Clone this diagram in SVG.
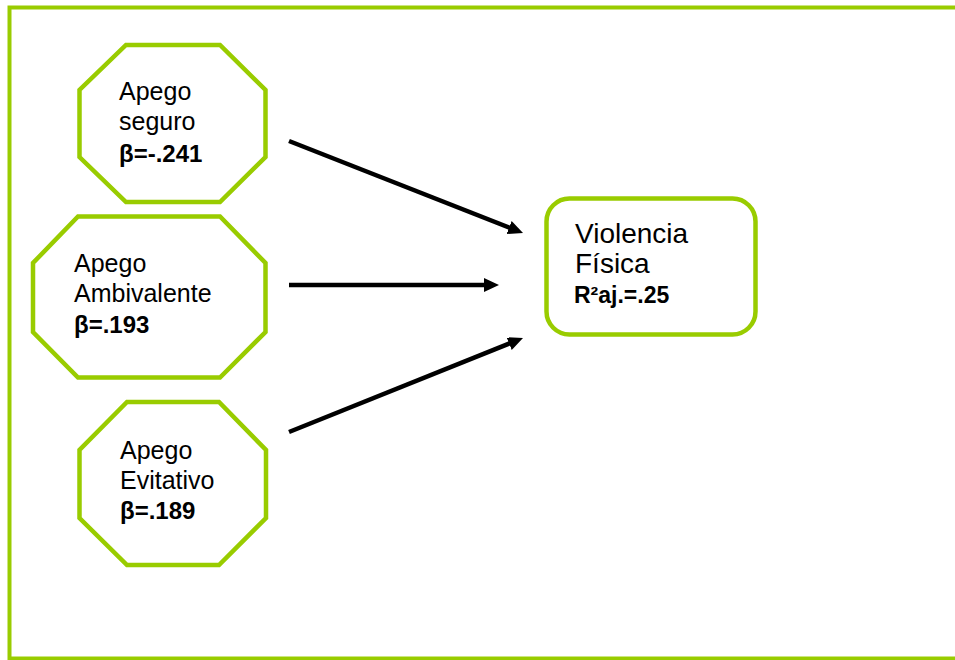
<svg xmlns="http://www.w3.org/2000/svg" width="955" height="660" viewBox="0 0 955 660">
<style>
.frame{fill:none;stroke:#99cc00;stroke-width:4}
.node{fill:#ffffff;stroke:#99cc00;stroke-width:4.5;stroke-linejoin:miter}
.t{font-family:"Liberation Sans",Arial,sans-serif;font-size:25px;fill:#000}
.b{font-family:"Liberation Sans",Arial,sans-serif;font-size:24px;font-weight:bold;fill:#000}
.tv{font-family:"Liberation Sans",Arial,sans-serif;font-size:28px;fill:#000}
.bv{font-family:"Liberation Sans",Arial,sans-serif;font-size:23px;font-weight:bold;fill:#000}
.edge{stroke:#000;stroke-width:4.5;fill:none;marker-end:url(#ah)}
</style>
<defs>
<marker id="ah" markerUnits="userSpaceOnUse" markerWidth="16" markerHeight="15" refX="7" refY="7" orient="auto">
<path d="M0,0 L15,7 L0,14 Z" fill="#000"/>
</marker>
</defs>
<rect class="frame" x="9.5" y="7.5" width="960" height="651"/>
<g id="seguro">
<polygon class="node" points="126,45 220,45 265.5,90 265.5,157 220,202 126,202 79.5,157 79.5,90"/>
<text class="t" x="119" y="100">Apego</text>
<text class="t" x="119" y="130">seguro</text>
<text class="b" x="119" y="162">β=-.241</text>
</g>
<g id="ambivalente">
<polygon class="node" points="78,216.5 220,216.5 265.5,263 265.5,332 220,377.5 78,377.5 33,332 33,263"/>
<text class="t" x="74" y="272">Apego</text>
<text class="t" x="74" y="302">Ambivalente</text>
<text class="b" x="74" y="333">β=.193</text>
</g>
<g id="evitativo">
<polygon class="node" points="127,402 219,402 266,450 266,518 219,565 127,565 79.5,518 79.5,450"/>
<text class="t" x="120" y="459">Apego</text>
<text class="t" x="120" y="489">Evitativo</text>
<text class="b" x="120" y="519">β=.189</text>
</g>
<g id="violencia">
<rect class="node" x="546.5" y="198.5" width="209" height="136" rx="23" ry="23"/>
<text class="tv" x="575" y="243">Violencia</text>
<text class="tv" x="575" y="273">Física</text>
<text class="bv" x="574" y="303">R²aj.=.25</text>
</g>
<g id="connectors">
<line class="edge" x1="289" y1="141" x2="515.6" y2="230.1"/>
<line class="edge" x1="289" y1="285" x2="491" y2="285"/>
<line class="edge" x1="289" y1="432" x2="515.6" y2="341"/>
</g>
</svg>
